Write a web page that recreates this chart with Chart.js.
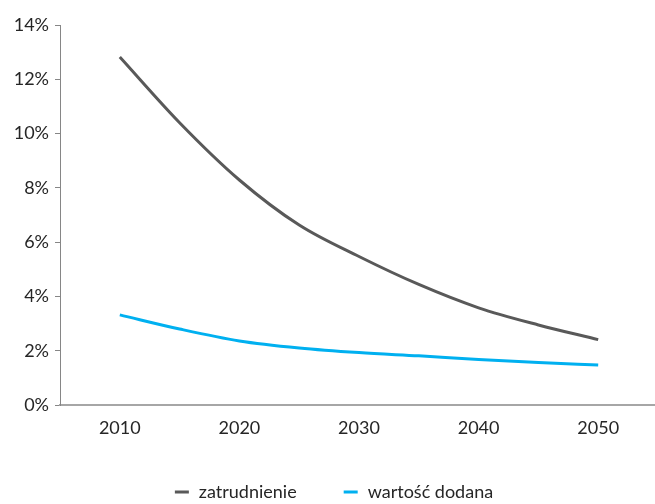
<!DOCTYPE html>
<html lang="pl">
<head>
<meta charset="utf-8">
<title>Zatrudnienie i wartość dodana</title>
<script src="https://cdn.jsdelivr.net/npm/chart.js@4"></script>
<style>
    html, body { margin: 0; padding: 0; background: #ffffff; }
    #wykres { display: block; }
</style>
</head>
<body>
<canvas id="wykres" width="655" height="504"></canvas>
<script>
// Dane (udział w %)
const lata = [2010, 2015, 2020, 2025, 2030, 2035, 2040, 2045, 2050];
const zatrudnienie = [12.82, 10.40, 8.29, 6.63, 5.47, 4.44, 3.58, 2.95, 2.41];
const wartoscDodana = [3.32, 2.80, 2.36, 2.10, 1.93, 1.81, 1.68, 1.57, 1.47];
const etykietyLat = [2010, 2020, 2030, 2040, 2050];
const etykietyY = [0, 2, 4, 6, 8, 10, 12, 14];

const czcionka = 'Lato, "Open Sans", sans-serif';

// Legenda rysowana pod wykresem (kreska + tekst)
const legendaDolna = {
    id: 'legendaDolna',
    afterDraw(chart) {
        const ctx = chart.ctx;
        const y = 492;
        const kreska = 14, odstep = 10, przerwa = 47;
        ctx.save();
        ctx.font = '18px ' + czcionka;
        ctx.textBaseline = 'middle';
        const zestawy = chart.data.datasets;
        let suma = 0;
        zestawy.forEach(function (d, i) {
            suma += kreska + odstep + ctx.measureText(d.label).width;
            if (i < zestawy.length - 1) suma += przerwa;
        });
        let x = 334 - suma / 2;
        zestawy.forEach(function (d) {
            ctx.fillStyle = d.borderColor;
            ctx.fillRect(x, y - 1.5, kreska, 3);
            x += kreska + odstep;
            ctx.fillStyle = '#262626';
            ctx.fillText(d.label, x, y);
            x += ctx.measureText(d.label).width + przerwa;
        });
        ctx.restore();
    }
};

let ctx1 = document.getElementById('wykres').getContext('2d');
let wykres = new Chart(ctx1, {
    type: 'line',
    data: {
        labels: lata,
        datasets: [
            {
                label: 'zatrudnienie',
                data: lata.map(function (r, i) { return { x: r, y: zatrudnienie[i] }; }),
                borderColor: '#595959',
                backgroundColor: '#595959',
                borderWidth: 3,
                pointRadius: 0,
                cubicInterpolationMode: 'monotone'
            },
            {
                label: 'wartość dodana',
                data: lata.map(function (r, i) { return { x: r, y: wartoscDodana[i] }; }),
                borderColor: '#00b0f0',
                backgroundColor: '#00b0f0',
                borderWidth: 3,
                pointRadius: 0,
                cubicInterpolationMode: 'monotone'
            }
        ]
    },
    options: {
        responsive: false,
        animation: false,
        layout: { padding: { top: 25, right: 0, bottom: 0, left: 0 } },
        plugins: {
            legend: { display: false },
            tooltip: { enabled: false }
        },
        scales: {
            x: {
                type: 'linear',
                min: 2005,
                max: 2054.75,
                afterBuildTicks: function (scale) {
                    scale.ticks = etykietyLat.map(function (v) { return { value: v }; });
                },
                afterFit: function (scale) { scale.height = 99; },
                grid: { display: false, drawTicks: false },
                border: { display: true, color: '#a6a6a6', width: 2 },
                ticks: {
                    padding: 12,
                    color: '#262626',
                    font: { family: czcionka, size: 18 },
                    maxRotation: 0,
                    callback: function (v) { return String(v); }
                }
            },
            y: {
                min: 0,
                max: 14,
                afterBuildTicks: function (scale) {
                    scale.ticks = etykietyY.map(function (v) { return { value: v }; });
                },
                afterFit: function (scale) { scale.width = 60; },
                grid: {
                    drawOnChartArea: false,
                    drawTicks: true,
                    tickLength: 5,
                    color: '#868686'
                },
                border: { display: true, color: '#868686', width: 1 },
                ticks: {
                    padding: 6,
                    color: '#262626',
                    font: { family: czcionka, size: 18 },
                    callback: function (v) { return v + '%'; }
                }
            }
        }
    },
    plugins: [legendaDolna]
});
</script>
</body>
</html>
